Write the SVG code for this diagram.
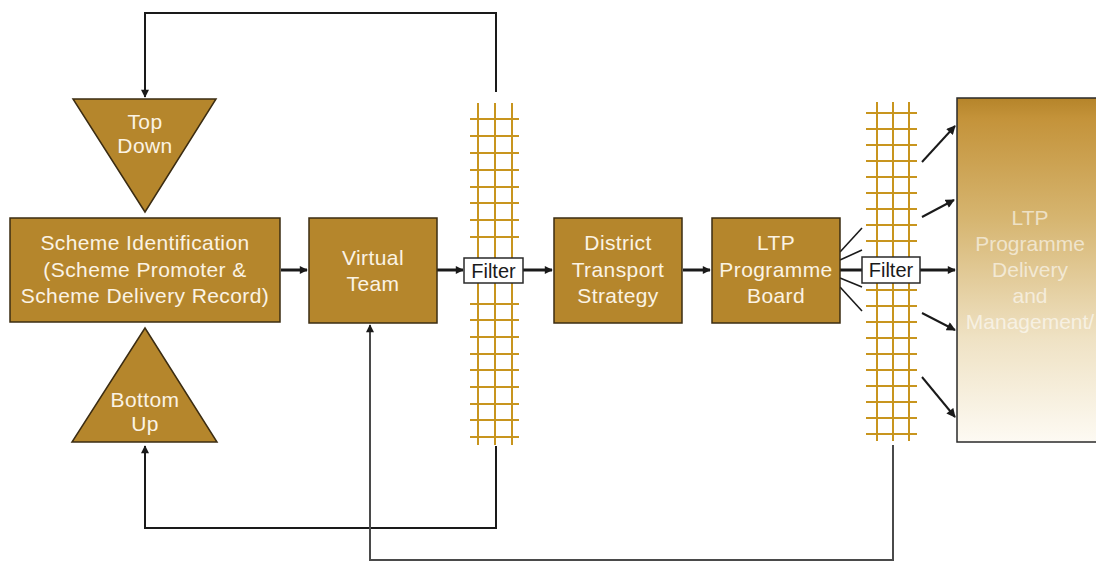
<svg xmlns="http://www.w3.org/2000/svg" width="1096" height="562" viewBox="0 0 1096 562">
<defs>
<marker id="ah" viewBox="0 0 10 10" refX="9" refY="5" markerWidth="9" markerHeight="8" orient="auto" markerUnits="userSpaceOnUse">
<path d="M0,0 L10,5 L0,10 z" fill="#1a1a1a"/>
</marker>
<marker id="ahs" viewBox="0 0 10 10" refX="9" refY="5" markerWidth="10" markerHeight="9" orient="auto" markerUnits="userSpaceOnUse">
<path d="M0,0 L10,5 L0,10 z" fill="#1a1a1a"/>
</marker>
<linearGradient id="rg" x1="0" y1="0" x2="0" y2="1">
<stop offset="0" stop-color="#b5842a"/>
<stop offset="0.06" stop-color="#c4933a"/>
<stop offset="0.35" stop-color="#d6b570"/>
<stop offset="0.7" stop-color="#efe2c4"/>
<stop offset="1" stop-color="#fdfaf3"/>
</linearGradient>
<style>
.box{fill:#b5862c;stroke:#3b2c12;stroke-width:1.5}
.lbl{font-family:"Liberation Sans",Arial,sans-serif;font-size:21px;letter-spacing:0.4px;fill:#fbf3e4;text-anchor:middle}
.rl{font-family:"Liberation Sans",Arial,sans-serif;font-size:21px;fill:#ffffff;fill-opacity:0.6;text-anchor:middle}
.flt{fill:#ffffff;stroke:#2a2a2a;stroke-width:1.5}
.ft{font-family:"Liberation Sans",Arial,sans-serif;font-size:20px;fill:#1a1a1a;text-anchor:middle}
.grid{stroke:#c8951e;stroke-width:2;fill:none}
.c{stroke:#1a1a1a;stroke-width:2;fill:none}
.cs{stroke:#1a1a1a;stroke-width:1.6;fill:none}
</style>
</defs>
<rect width="1096" height="562" fill="#ffffff"/>

<g id="connectors">
<path class="c" d="M496,92 V13 H145 V97" marker-end="url(#ah)"/>
<path class="c" d="M496,446 V528 H145 V446" marker-end="url(#ah)"/>
<path class="c" d="M893,445 V560 H370 V325" marker-end="url(#ah)" style="stroke:#4a4a4a"/>
<path class="c" d="M281,270 H307" marker-end="url(#ah)" style="stroke-width:3"/>
<path class="c" d="M437,270 H463" marker-end="url(#ah)" style="stroke-width:3"/>
<path class="c" d="M523,270 H552" marker-end="url(#ah)" style="stroke-width:3"/>
<path class="c" d="M683,270 H710" marker-end="url(#ah)" style="stroke-width:3"/>
<path class="c" d="M840,270 H862" style="stroke-width:3"/>
<path class="c" d="M920,270 H955" marker-end="url(#ah)" style="stroke-width:3"/>
<path class="cs" d="M840,252 L862,228"/>
<path class="cs" d="M840,260 L862,250"/>
<path class="cs" d="M840,278 L862,287"/>
<path class="cs" d="M840,287 L862,311"/>
<path class="c" d="M922,162 L955,126" marker-end="url(#ahs)"/>
<path class="c" d="M922,217 L954,200" marker-end="url(#ahs)"/>
<path class="c" d="M922,313 L955,330" marker-end="url(#ahs)"/>
<path class="c" d="M922,377 L955,417" marker-end="url(#ahs)"/>
</g>

<g id="top-down">
<polygon class="box" points="73,99 216,99 145,212"/>
<text class="lbl" x="145" y="129">Top</text>
<text class="lbl" x="145" y="153">Down</text>
</g>

<g id="bottom-up">
<polygon class="box" points="145,328 217,442 72,442"/>
<text class="lbl" x="145" y="407">Bottom</text>
<text class="lbl" x="145" y="431">Up</text>
</g>

<g id="scheme-identification">
<rect class="box" x="10" y="218" width="270" height="104"/>
<text class="lbl" x="145" y="250">Scheme Identification</text>
<text class="lbl" x="145" y="277">(Scheme Promoter &amp;</text>
<text class="lbl" x="145" y="303">Scheme Delivery Record)</text>
</g>

<g id="virtual-team">
<rect class="box" x="309" y="218" width="128" height="105"/>
<text class="lbl" x="373" y="265">Virtual</text>
<text class="lbl" x="373" y="291">Team</text>
</g>

<g id="filter-1">
<g class="grid">
<path d="M478,103 V445 M495,103 V445 M512,103 V445"/>
<path d="M470,119 H519 M470,136 H519 M470,153 H519 M470,170 H519 M470,187 H519 M470,203 H519 M470,220 H519 M470,237 H519 M470,304 H519 M470,320 H519 M470,337 H519 M470,354 H519 M470,370 H519 M470,387 H519 M470,404 H519 M470,420 H519 M470,437 H519"/>
</g>
<rect class="flt" x="464" y="258" width="59" height="25"/>
<text class="ft" x="493.5" y="278">Filter</text>
</g>

<g id="district-transport-strategy">
<rect class="box" x="554" y="218" width="128" height="105"/>
<text class="lbl" x="618" y="250">District</text>
<text class="lbl" x="618" y="277">Transport</text>
<text class="lbl" x="618" y="303">Strategy</text>
</g>

<g id="ltp-programme-board">
<rect class="box" x="712" y="218" width="128" height="105"/>
<text class="lbl" x="776" y="250">LTP</text>
<text class="lbl" x="776" y="277">Programme</text>
<text class="lbl" x="776" y="303">Board</text>
</g>

<g id="filter-2">
<g class="grid">
<path d="M877,102 V441 M893,102 V441 M909,102 V441"/>
<path d="M866,113 H917 M866,129 H917 M866,145 H917 M866,161 H917 M866,177 H917 M866,193 H917 M866,209 H917 M866,225 H917 M866,241 H917 M866,290 H917 M866,306 H917 M866,322 H917 M866,338 H917 M866,354 H917 M866,370 H917 M866,386 H917 M866,402 H917 M866,418 H917 M866,434 H917"/>
</g>
<rect class="flt" x="862" y="257" width="58" height="26"/>
<text class="ft" x="891" y="277">Filter</text>
</g>

<g id="ltp-programme-delivery">
<rect x="957" y="98" width="145" height="344" fill="url(#rg)" stroke="#2a2a2a" stroke-width="1.5"/>
<text class="rl" x="1030" y="225">LTP</text>
<text class="rl" x="1030" y="251">Programme</text>
<text class="rl" x="1030" y="277">Delivery</text>
<text class="rl" x="1030" y="303">and</text>
<text class="rl" x="1030" y="329">Management/</text>
</g>
</svg>
